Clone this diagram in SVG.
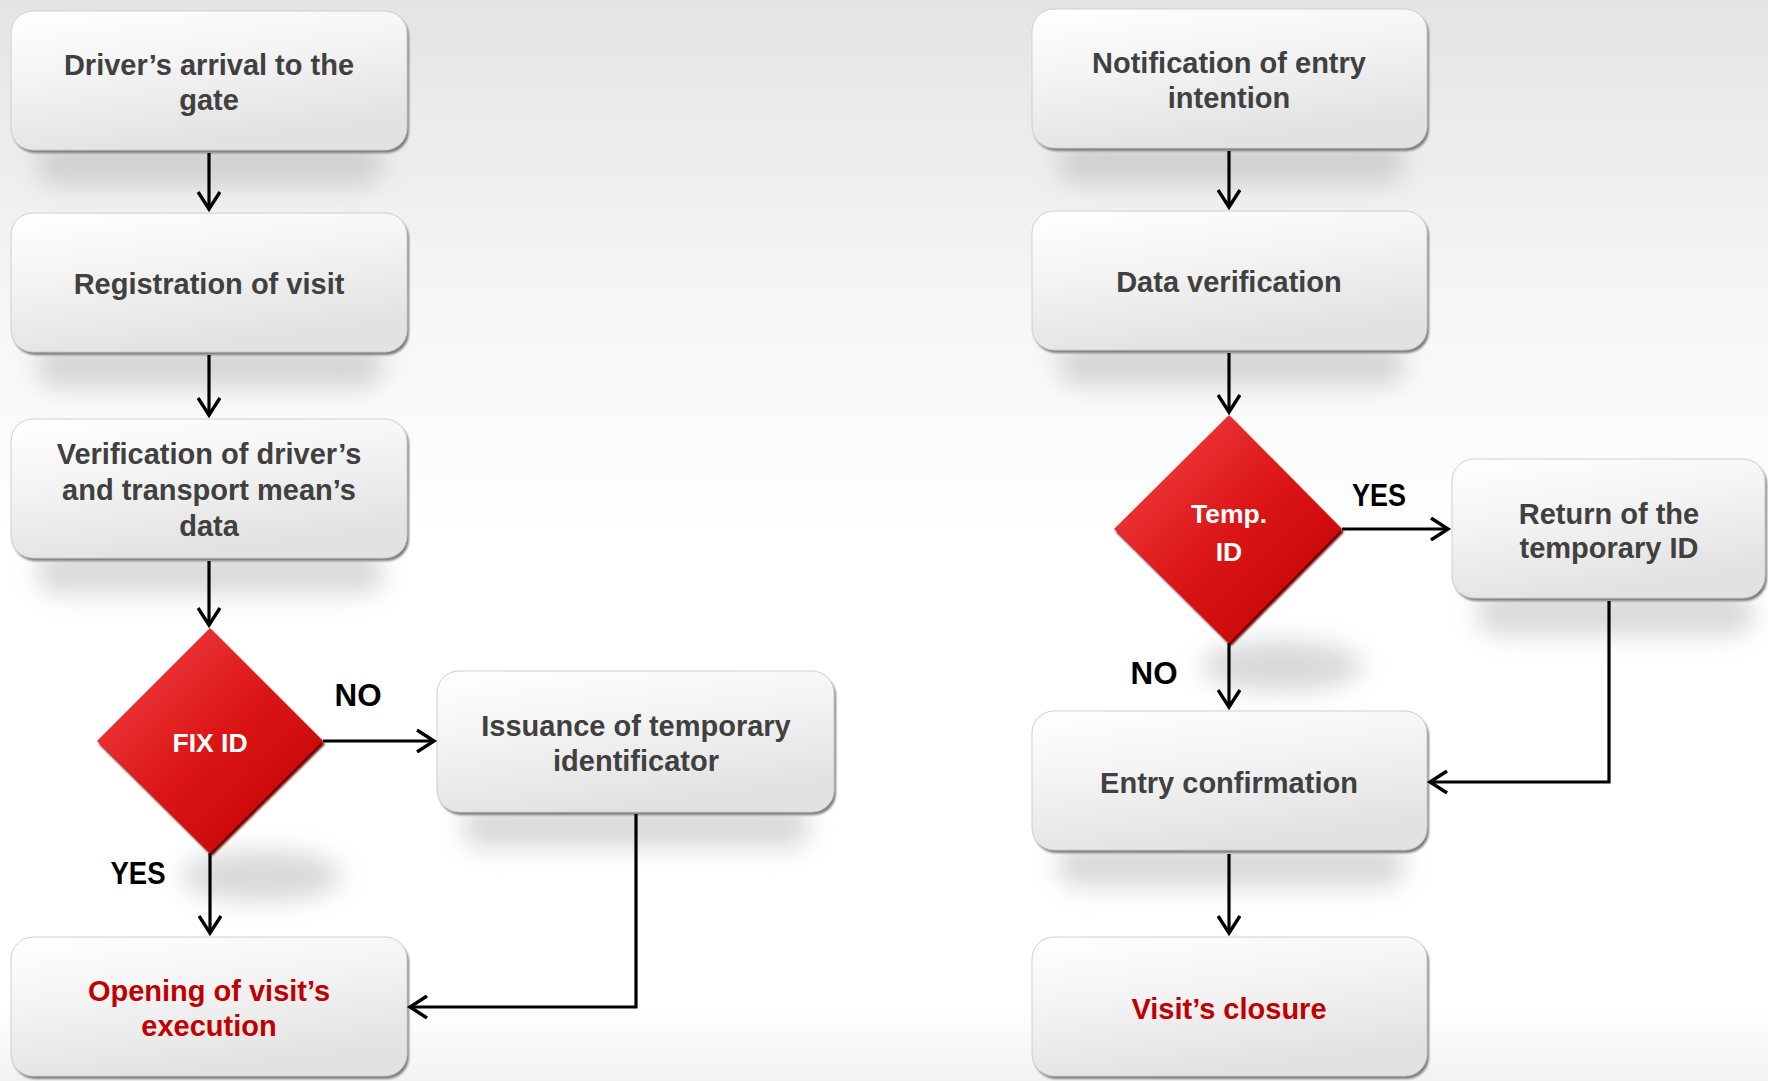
<svg xmlns="http://www.w3.org/2000/svg" width="1768" height="1081" viewBox="0 0 1768 1081">
<style>
.t{font-family:"Liberation Sans",Arial,sans-serif;font-weight:bold;font-size:29px;fill:#404040;text-anchor:middle}
.r{fill:#c00000}
.w{font-family:"Liberation Sans",Arial,sans-serif;font-weight:bold;font-size:26.5px;fill:#ffffff;text-anchor:middle}
.lbl{font-family:"Liberation Sans",Arial,sans-serif;font-weight:bold;font-size:31px;fill:#000;text-anchor:middle}
.box{fill:url(#boxg);stroke:#cfcfcf;stroke-width:1}
.rim{fill:#7d7d7d;filter:url(#soft)}
.shadow{fill:#b4b4b4;opacity:0.5;filter:url(#blur)}
.dia{fill:url(#redg)}
.drim{fill:#6e0000;filter:url(#soft)}
.conn{fill:none;stroke:#000;stroke-width:3.2}
</style>
<defs>
<linearGradient id="bg" x1="0" y1="0" x2="0" y2="1">
<stop offset="0" stop-color="#e4e4e6"/>
<stop offset="0.28" stop-color="#f6f6f6"/>
<stop offset="0.5" stop-color="#ffffff"/>
<stop offset="0.93" stop-color="#ffffff"/>
<stop offset="1" stop-color="#f2f2f2"/>
</linearGradient>
<linearGradient id="boxg" x1="0" y1="0" x2="0.35" y2="1">
<stop offset="0" stop-color="#ffffff"/>
<stop offset="0.45" stop-color="#f4f4f4"/>
<stop offset="1" stop-color="#e2e2e2"/>
</linearGradient>
<linearGradient id="redg" x1="0" y1="0" x2="1" y2="1">
<stop offset="0" stop-color="#f5484a"/>
<stop offset="0.5" stop-color="#dc1616"/>
<stop offset="1" stop-color="#bf0000"/>
</linearGradient>
<filter id="blur" x="-30%" y="-100%" width="160%" height="300%"><feGaussianBlur stdDeviation="12"/></filter>
<filter id="soft" x="-10%" y="-10%" width="120%" height="120%"><feGaussianBlur stdDeviation="1.2"/></filter>
<marker id="ah" viewBox="-20 -12 24 24" refX="0" refY="0" markerWidth="24" markerHeight="24" markerUnits="userSpaceOnUse" orient="auto">
<path d="M-17,-11 L0,0 L-17,11" fill="none" stroke="#000" stroke-width="3.4"/>
</marker>
</defs>
<rect x="0" y="0" width="1768" height="1081" fill="url(#bg)"/>

<g id="shadows">
<rect class="shadow" x="36" y="142" width="348" height="44" rx="22"/>
<rect class="shadow" x="36" y="344" width="348" height="44" rx="22"/>
<rect class="shadow" x="36" y="550" width="348" height="44" rx="22"/>
<rect class="shadow" x="462" y="804" width="348" height="44" rx="22"/>
<rect class="shadow" x="1057" y="140" width="348" height="44" rx="22"/>
<rect class="shadow" x="1057" y="342" width="348" height="44" rx="22"/>
<rect class="shadow" x="1476" y="591" width="278" height="44" rx="22"/>
<rect class="shadow" x="1057" y="843" width="348" height="44" rx="22"/>
<ellipse class="shadow" cx="262" cy="876" rx="80" ry="26"/>
<ellipse class="shadow" cx="1282" cy="666" rx="80" ry="26"/>
</g>

<g id="n1">
<rect class="rim" x="13" y="14" width="396" height="139" rx="22"/>
<rect class="box" x="11" y="11" width="396" height="139" rx="22"/>
<text class="t" x="209" y="75">Driver’s arrival to the</text>
<text class="t" x="209" y="110">gate</text>
</g>
<g id="n2">
<rect class="rim" x="13" y="216" width="396" height="139" rx="22"/>
<rect class="box" x="11" y="213" width="396" height="139" rx="22"/>
<text class="t" x="209" y="294">Registration of visit</text>
</g>
<g id="n3">
<rect class="rim" x="13" y="422" width="396" height="139" rx="22"/>
<rect class="box" x="11" y="419" width="396" height="139" rx="22"/>
<text class="t" x="209" y="464">Verification of driver’s</text>
<text class="t" x="209" y="500">and transport mean’s</text>
<text class="t" x="209" y="536">data</text>
</g>
<g id="d1">
<polygon class="drim" points="212,631 325,744 212,856 99,744"/>
<polygon class="dia" points="210,628 323,741 210,853 97,741"/>
<text class="w" x="210" y="752">FIX ID</text>
</g>
<g id="n4">
<rect class="rim" x="439" y="674" width="397" height="141" rx="22"/>
<rect class="box" x="437" y="671" width="397" height="141" rx="22"/>
<text class="t" x="636" y="736">Issuance of temporary</text>
<text class="t" x="636" y="771">identificator</text>
</g>
<g id="n5">
<rect class="rim" x="13" y="940" width="396" height="139" rx="22"/>
<rect class="box" x="11" y="937" width="396" height="139" rx="22"/>
<text class="t r" x="209" y="1001">Opening of visit’s</text>
<text class="t r" x="209" y="1036">execution</text>
</g>

<g id="n6">
<rect class="rim" x="1034" y="12" width="395" height="139" rx="22"/>
<rect class="box" x="1032" y="9" width="395" height="139" rx="22"/>
<text class="t" x="1229" y="73">Notification of entry</text>
<text class="t" x="1229" y="108">intention</text>
</g>
<g id="n7">
<rect class="rim" x="1034" y="214" width="395" height="139" rx="22"/>
<rect class="box" x="1032" y="211" width="395" height="139" rx="22"/>
<text class="t" x="1229" y="292">Data verification</text>
</g>
<g id="d2">
<polygon class="drim" points="1231,418 1344,532 1231,646 1116,532"/>
<polygon class="dia" points="1229,415 1342,529 1229,643 1114,529"/>
<text class="w" x="1229" y="523">Temp.</text>
<text class="w" x="1229" y="561">ID</text>
</g>
<g id="n8">
<rect class="rim" x="1454" y="462" width="313" height="139" rx="22"/>
<rect class="box" x="1452" y="459" width="313" height="139" rx="22"/>
<text class="t" x="1609" y="524">Return of the</text>
<text class="t" x="1609" y="558">temporary ID</text>
</g>
<g id="n9">
<rect class="rim" x="1034" y="714" width="395" height="139" rx="22"/>
<rect class="box" x="1032" y="711" width="395" height="139" rx="22"/>
<text class="t" x="1229" y="793">Entry confirmation</text>
</g>
<g id="n10">
<rect class="rim" x="1034" y="940" width="395" height="139" rx="22"/>
<rect class="box" x="1032" y="937" width="395" height="139" rx="22"/>
<text class="t r" x="1229" y="1019">Visit’s closure</text>
</g>

<g id="connectors">
<path class="conn" d="M209,153 V209" marker-end="url(#ah)"/>
<path class="conn" d="M209,355 V415" marker-end="url(#ah)"/>
<path class="conn" d="M209,561 V625" marker-end="url(#ah)"/>
<path class="conn" d="M323,741 H434" marker-end="url(#ah)"/>
<path class="conn" d="M210,853 V933" marker-end="url(#ah)"/>
<path class="conn" d="M636,814 V1007 H410" marker-end="url(#ah)"/>
<path class="conn" d="M1229,151 V207" marker-end="url(#ah)"/>
<path class="conn" d="M1229,353 V412" marker-end="url(#ah)"/>
<path class="conn" d="M1342,529 H1448" marker-end="url(#ah)"/>
<path class="conn" d="M1229,643 V707" marker-end="url(#ah)"/>
<path class="conn" d="M1609,601 V782 H1430" marker-end="url(#ah)"/>
<path class="conn" d="M1229,854 V933" marker-end="url(#ah)"/>
</g>

<g id="labels">
<text class="lbl" x="358" y="706" textLength="47" lengthAdjust="spacingAndGlyphs">NO</text>
<text class="lbl" x="138" y="884" textLength="55" lengthAdjust="spacingAndGlyphs">YES</text>
<text class="lbl" x="1379" y="506" textLength="54" lengthAdjust="spacingAndGlyphs">YES</text>
<text class="lbl" x="1154" y="684" textLength="47" lengthAdjust="spacingAndGlyphs">NO</text>
</g>
</svg>
